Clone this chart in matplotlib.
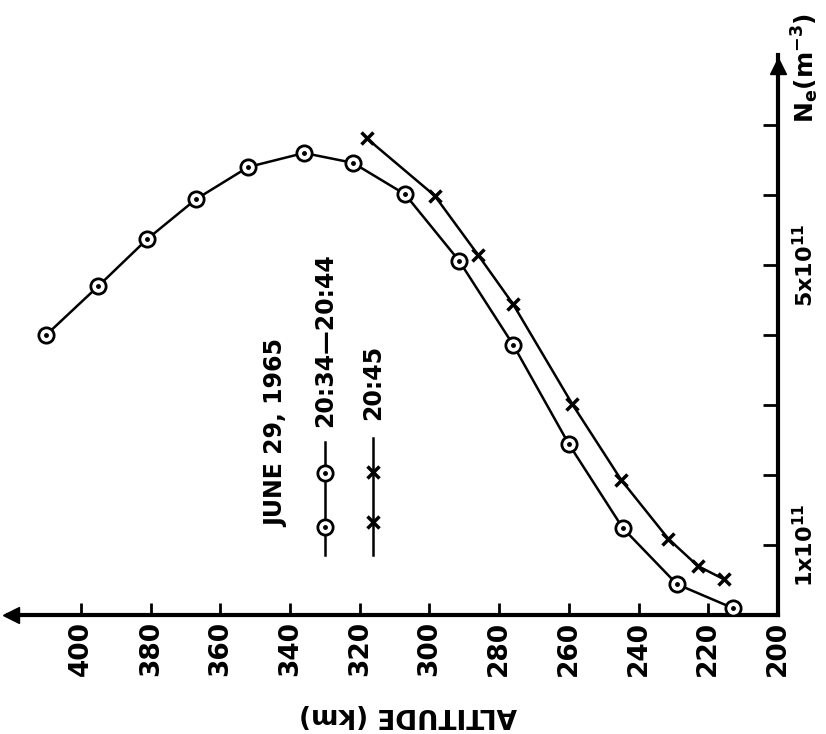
import matplotlib
matplotlib.use('Agg')
import matplotlib.pyplot as plt
from matplotlib.lines import Line2D

plt.rcParams['font.family'] = 'DejaVu Sans'
plt.rcParams['font.weight'] = 'bold'
plt.rcParams['mathtext.default'] = 'bf'

# June 29, 1965 electron density profiles (Ne in units of 1e11 m^-3)
alt_early = [410, 395, 381, 367, 352, 336, 322, 307, 291.5, 276, 260, 244.5, 229, 213]
ne_early = [4.00, 4.70, 5.37, 5.94, 6.40, 6.60, 6.46, 6.01, 5.06, 3.86, 2.44, 1.24, 0.44, 0.10]

alt_late = [318, 298.5, 286, 276, 259, 245, 231.5, 223, 215.5]
ne_late = [6.81, 5.99, 5.14, 4.44, 3.01, 1.93, 1.09, 0.70, 0.51]

alt_ticks = list(range(200, 401, 20))
ne_ticks = [1, 2, 3, 4, 5, 6, 7]
ne_labels = ['1x10$^{11}$', '', '', '', '5x10$^{11}$', '', '']

W, H = 826, 734
fig = plt.figure(figsize=(W / 100, H / 100), dpi=100)
ax = fig.add_axes([7.8 / W, 119 / H, 770.2 / W, 560 / H])
ax.set_xlim(421, 200)
ax.set_ylim(0, 8)

# curves
ax.plot(alt_early, ne_early, 'k-', lw=1.8, zorder=2)
ax.plot(alt_early, ne_early, 'o', ms=11, mfc='white', mec='black', mew=2, zorder=3)
ax.plot(alt_early, ne_early, 'o', ms=2.5, color='black', zorder=4)
ax.plot(alt_late, ne_late, 'k-', lw=1.8, zorder=2)
ax.plot(alt_late, ne_late, 'x', ms=9, mec='black', mew=2.5, zorder=3)

# axes frame, drawn like the hand-made original
for s in ['top', 'left']:
    ax.spines[s].set_visible(False)
for s in ['bottom', 'right']:
    ax.spines[s].set_linewidth(3)
ax.plot([420], [0], marker='<', ms=12, color='black', clip_on=False, zorder=5)
ax.plot([200], [7.85], marker='^', ms=12, color='black', clip_on=False, zorder=5)

ax.set_xticks(alt_ticks)
ax.set_xticklabels([str(t) for t in alt_ticks], rotation=90, fontsize=19, fontweight='bold')
ax.tick_params(axis='x', direction='in', length=9, width=2, pad=4)

ax.yaxis.tick_right()
ax.set_yticks(ne_ticks)
ax.set_yticklabels(ne_labels, rotation=90, fontsize=16, va='center')
ax.tick_params(axis='y', direction='in', length=11, width=2, pad=10)

fig.text(408 / W, 1 - 715 / H, 'ALTITUDE (km)', rotation=180, fontsize=19,
         fontweight='bold', ha='center', va='center')
fig.text(805 / W, 1 - 68 / H, 'N$_e$(m$^{-3}$)', rotation=90, fontsize=18,
         ha='center', va='center')

# legend
fig.text(276 / W, 1 - 527 / H, 'JUNE 29, 1965', rotation=90, fontsize=17,
         ha='center', va='bottom')
fig.text(325 / W, 1 - 427 / H, '20:34\u201420:44', rotation=90, fontsize=17,
         ha='center', va='bottom')
fig.text(373 / W, 1 - 420 / H, '20:45', rotation=90, fontsize=17,
         ha='center', va='bottom')

lx1, lx2 = 325 / W, 373 / W
fig.add_artist(Line2D([lx1, lx1], [1 - 442 / H, 1 - 555 / H], color='black', lw=1.8))
fig.add_artist(Line2D([lx1, lx1], [1 - 473 / H, 1 - 527 / H], ls='none', marker='o',
                      ms=11, mfc='white', mec='black', mew=2))
fig.add_artist(Line2D([lx1, lx1], [1 - 473 / H, 1 - 527 / H], ls='none', marker='o',
                      ms=2.5, color='black'))
fig.add_artist(Line2D([lx2, lx2], [1 - 438 / H, 1 - 555 / H], color='black', lw=1.8))
fig.add_artist(Line2D([lx2, lx2], [1 - 472 / H, 1 - 522 / H], ls='none', marker='x',
                      ms=9, mec='black', mew=2.5))

fig.savefig('out.png', dpi=100)
